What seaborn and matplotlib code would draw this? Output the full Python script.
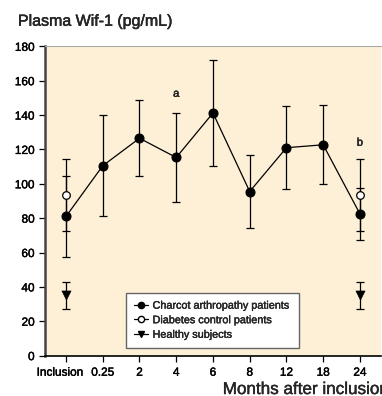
import numpy as np
import pandas as pd
import matplotlib
matplotlib.use("Agg")
import matplotlib.pyplot as plt
import matplotlib.patheffects as pe
from matplotlib.lines import Line2D
from matplotlib.transforms import ScaledTranslation
import seaborn as sns

# Time points (categorical, evenly spaced on the axis)
time_labels = ['Inclusion', '0.25', '2', '4', '6', '8', '12', '18', '24']

# Charcot arthropathy patients: mean and error
charcot_mean = [81, 110.5, 126.5, 115.3, 141.2, 95.5, 121, 122.7, 82.5]
charcot_err = [23.5, 29.5, 22, 26, 31, 21, 24, 23, 15]

# Diabetes control patients (inclusion and 24 months)
diab_labels = ['Inclusion', '24']
diab_mean = [93.5, 93.5]
diab_err = [21, 21]

# Healthy subjects (shown at inclusion and 24 months)
healthy_labels = ['Inclusion', '24']
healthy_mean = [35, 35]
healthy_err = [7.7, 7.7]

# Significance annotations
annot_labels = ['4', '24']
annot_text = ['a', 'b']
annot_y = [149.5, 121]

sns.set_style("ticks")
plt.rcParams['font.family'] = ['Liberation Sans', 'DejaVu Sans']
heavy = [pe.withStroke(linewidth=0.3, foreground='black')]

pos = {lab: i for i, lab in enumerate(time_labels)}
charcot = pd.DataFrame({'x': [pos[t] for t in time_labels], 'y': charcot_mean, 'err': charcot_err})
diab = pd.DataFrame({'x': [pos[t] for t in diab_labels], 'y': diab_mean, 'err': diab_err})
healthy = pd.DataFrame({'x': [pos[t] for t in healthy_labels], 'y': healthy_mean, 'err': healthy_err})

fig = plt.figure(figsize=(3.82, 3.96), dpi=100)
ax = fig.add_axes([0.118, 0.102, 0.879, 0.781])
ax.set_facecolor('#fdf0d6')

# error bars
ekw = dict(fmt='none', ecolor='black', elinewidth=0.9, capsize=3.2, capthick=0.9)
ax.errorbar(healthy['x'], healthy['y'], yerr=healthy['err'], zorder=2, **ekw)
ax.errorbar(diab['x'], diab['y'], yerr=diab['err'], zorder=2, **ekw)
ax.errorbar(charcot['x'], charcot['y'], yerr=charcot['err'], zorder=2, **ekw)

# series
sns.lineplot(data=charcot, x='x', y='y', color='black', lw=0.9, marker='o', markersize=6.5,
             markeredgecolor='black', ax=ax, zorder=4)
sns.scatterplot(data=diab, x='x', y='y', marker='o', s=30, facecolor='white', edgecolor='black',
                linewidth=0.9, ax=ax, zorder=3)
sns.scatterplot(data=healthy, x='x', y='y', marker='v', s=42, color='black', edgecolor='black',
                ax=ax, zorder=3)

for lab, txt, yv in zip(annot_labels, annot_text, annot_y):
    ax.text(pos[lab], yv, txt, ha='center', va='bottom', fontsize=8, path_effects=heavy)

ax.set_xlim(-0.57, 8.57)
ax.set_ylim(0, 180)
ax.set_xticks(range(len(time_labels)))
ax.set_xticklabels(time_labels)
ax.set_yticks(range(0, 181, 20))
ax.tick_params(axis='both', labelsize=8.5, length=4, width=0.9, colors='black')
ax.tick_params(axis='x', pad=4)
ax.set_xlabel('')
ax.set_ylabel('')
for lbl in ax.get_xticklabels() + ax.get_yticklabels():
    lbl.set_path_effects(heavy)
first = ax.get_xticklabels()[0]
first.set_transform(first.get_transform() + ScaledTranslation(-0.06, 0, fig.dpi_scale_trans))

ax.spines['left'].set_color('#444444')
ax.spines['left'].set_linewidth(1.8)
ax.spines['bottom'].set_color('black')
ax.spines['bottom'].set_linewidth(1.2)
ax.spines['top'].set_color('#aaaaaa')
ax.spines['top'].set_linewidth(0.8)
ax.spines['right'].set_visible(False)

fig.text(0.047, 0.935, 'Plasma Wif-1 (pg/mL)', fontsize=11.5, ha='left', va='baseline',
         path_effects=heavy)
fig.text(0.583, 0.005, 'Months after inclusion', fontsize=12.3, ha='left', va='baseline',
         path_effects=[pe.withStroke(linewidth=0.25, foreground='black')])

handles = [
    Line2D([0], [0], color='black', lw=0.9, marker='o', markersize=4.5, markerfacecolor='black'),
    Line2D([0], [0], color='black', lw=0.9, marker='o', markersize=4.5, markerfacecolor='white'),
    Line2D([0], [0], color='black', lw=0.9, marker='v', markersize=5, markerfacecolor='black'),
]
leg = ax.legend(handles, ['Charcot arthropathy patients', 'Diabetes control patients', 'Healthy subjects'],
                loc='lower left', bbox_to_anchor=(0.241, 0.025), fontsize=7.8, frameon=True, fancybox=False,
                framealpha=1, edgecolor='#666666', handlelength=1.25, handletextpad=0.45,
                borderpad=0.75, labelspacing=0.42, borderaxespad=0)
leg.get_frame().set_linewidth(1.0)
for t in leg.get_texts():
    t.set_path_effects([pe.withStroke(linewidth=0.25, foreground='black')])

fig.savefig('out.png', dpi=100)
